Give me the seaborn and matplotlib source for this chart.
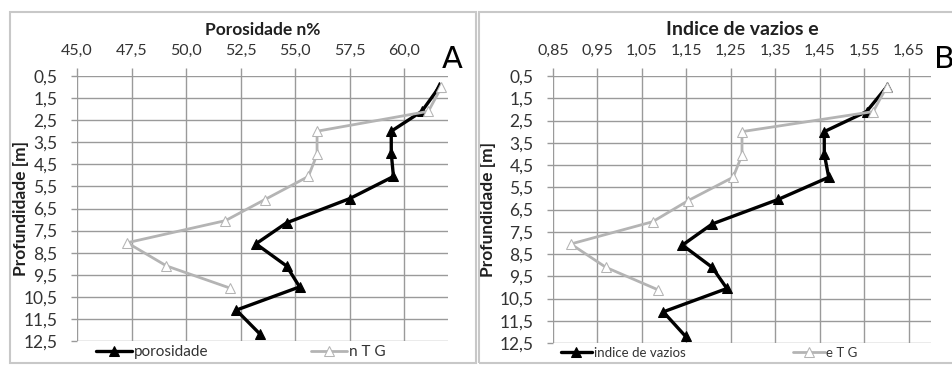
import matplotlib
matplotlib.use("Agg")
import matplotlib.pyplot as plt
import seaborn as sns
import pandas as pd
from matplotlib.patches import Rectangle

sns.set_theme(style="white")
plt.rcParams['font.family'] = ['Lato', 'DejaVu Sans']

# ---- data ----
depth_main = [1.0, 2.1, 3.0, 4.0, 5.05, 6.05, 7.15, 8.1, 9.1, 10.05, 11.1, 12.2]
depth_tg = [1.0, 2.1, 3.0, 4.05, 5.05, 6.1, 7.05, 8.05, 9.1, 10.1]

porosidade = [61.6, 60.8, 59.4, 59.4, 59.5, 57.5, 54.6, 53.2, 54.6, 55.2, 52.3, 53.4]
n_tg = [61.7, 61.1, 56.0, 56.0, 55.6, 53.6, 51.8, 47.3, 49.1, 52.0]

indice_vazios = [1.60, 1.555, 1.46, 1.46, 1.47, 1.356, 1.208, 1.141, 1.208, 1.241, 1.098, 1.148]
e_tg = [1.60, 1.57, 1.275, 1.275, 1.255, 1.154, 1.074, 0.89, 0.969, 1.085]

y_ticks = [0.5 + i for i in range(13)]
y_ticklabels = [f"{v:.1f}".replace('.', ',') for v in y_ticks]
xA_ticks = [45.0, 47.5, 50.0, 52.5, 55.0, 57.5, 60.0]
xB_ticks = [0.85, 0.95, 1.05, 1.15, 1.25, 1.35, 1.45, 1.55, 1.65]

title_A = "Porosidade n%"
title_B = "Indice de vazios e"
ylabel = "Profundidade [m]"
labels_A = ["porosidade", "n T G"]
labels_B = ["indice de vazios", "e T G"]

W, H = 953, 367
fig = plt.figure(figsize=(W / 100, H / 100), dpi=100)
fig.patch.set_facecolor('white')

# panel frames
for (x0, x1) in [(10, 476), (479, 960)]:
    fig.patches.append(Rectangle((x0 / W, 1 - 363 / H), (x1 - x0) / W, (363 - 12) / H,
                                 transform=fig.transFigure, fill=False,
                                 edgecolor='#c8c8c8', linewidth=1.5))

axA = fig.add_axes([77 / W, 1 - 341 / H, (448 - 77) / W, (341 - 76) / H])
axB = fig.add_axes([553 / W, 1 - 343 / H, (931 - 553) / W, (343 - 76) / H])

BLACK = '#000000'
GRAY = '#b4b4b4'
TXT = '#333333'


def draw(ax, xmain, xtg, lab, xlim, xticks, fmt, title, tsize, tpad, legend_x, colsp, lfs, ylab_x):
    dfm = pd.DataFrame({'x': xmain, 'y': depth_main})
    dft = pd.DataFrame({'x': xtg, 'y': depth_tg})
    sns.lineplot(data=dfm, x='x', y='y', sort=False, estimator=None, ax=ax,
                 color=BLACK, linewidth=2.4, marker='^', markersize=7,
                 markerfacecolor=BLACK, markeredgecolor=BLACK, label=lab[0])
    sns.lineplot(data=dft, x='x', y='y', sort=False, estimator=None, ax=ax,
                 color=GRAY, linewidth=2.0, marker='^', markersize=7,
                 markerfacecolor='white', markeredgecolor=GRAY, label=lab[1])
    ax.set_xlim(*xlim)
    ax.set_ylim(12.5, 0.5)
    ax.xaxis.tick_top()
    ax.set_xticks(xticks)
    ax.set_xticklabels([fmt(v) for v in xticks])
    ax.set_yticks(y_ticks)
    ax.set_yticklabels(y_ticklabels)
    ax.grid(True, color='#9a9a9a', linewidth=1.0)
    for s in ax.spines.values():
        s.set_visible(False)
    ax.tick_params(axis='x', which='both', top=True, bottom=False, length=6,
                   width=1.0, color='#9a9a9a', pad=7, labelsize=11.5, labelcolor=TXT)
    ax.tick_params(axis='y', which='both', left=True, length=4, width=1.0,
                   color='#9a9a9a', pad=10, labelsize=12.5, labelcolor=TXT)
    ax.set_xlabel('')
    ax.set_title(title, fontsize=tsize, fontweight='bold', color='#202020', pad=tpad)
    ax.set_ylabel(ylabel, fontsize=12.5, fontweight='bold', color='#202020')
    ax.yaxis.set_label_coords(ylab_x, 0.5)
    leg = ax.legend(loc='upper left', bbox_to_anchor=(legend_x, -0.015), ncol=2,
                    frameon=False, fontsize=lfs, handlelength=2.4, handletextpad=0.1,
                    columnspacing=colsp, borderaxespad=0, borderpad=0)
    for t in leg.get_texts():
        t.set_color(TXT)


draw(axA, porosidade, n_tg, labels_A, (45, 62), xA_ticks,
     lambda v: f"{v:.1f}".replace('.', ','), title_A, 12.5, 6.5, 0.05, 6.7, 11, -0.13)
draw(axB, indice_vazios, e_tg, labels_B, (0.85, 1.70), xB_ticks,
     lambda v: f"{v:.2f}".replace('.', ','), title_B, 14, 6.5, 0.02, 8.2, 9.5, -0.15)

fig.text(452 / W, 1 - 60 / H, "A", fontsize=22, ha='center', va='center', color='black',
         family=['DejaVu Sans'])
fig.text(944 / W, 1 - 60 / H, "B", fontsize=22, ha='center', va='center', color='black',
         family=['DejaVu Sans'])

fig.savefig("out.png", dpi=100, facecolor='white')
